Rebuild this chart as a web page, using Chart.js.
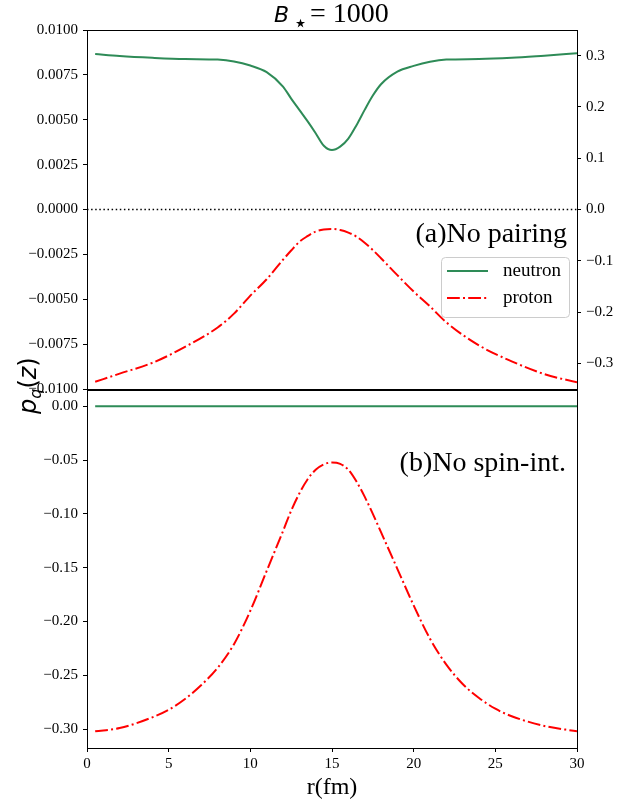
<!DOCTYPE html>
<html><head><meta charset="utf-8">
<script src="https://cdn.jsdelivr.net/npm/chart.js@4/dist/chart.umd.min.js"></script>
<style>
html,body{margin:0;padding:0;background:#fff;}
#wrap{position:relative;width:641px;height:805px;}
canvas{position:absolute;left:0;top:0;}
</style></head><body>
<div id="wrap"><canvas id="c1" width="641" height="805"></canvas><canvas id="c2" width="641" height="805"></canvas></div>
<script>
// ---- data ----
const rA = [0.5, 2, 4, 6, 8, 9, 10, 11, 12, 12.5, 13, 13.5, 14, 14.5, 15, 15.5, 16, 16.5, 17, 17.5, 18, 19, 20, 21, 22, 24, 26, 28, 30];
const neutronA = [0.00866, 0.00855, 0.00845, 0.00838, 0.00835, 0.00825, 0.00802, 0.00765, 0.00685, 0.00618, 0.00555, 0.00492, 0.00425, 0.00355, 0.00331, 0.00350, 0.00395, 0.00470, 0.00555, 0.00635, 0.00698, 0.00768, 0.00800, 0.00823, 0.00835, 0.00838, 0.00845, 0.00857, 0.00870];
const protonA = [-0.336, -0.320, -0.299, -0.268, -0.230, -0.203, -0.168, -0.136, -0.098, -0.080, -0.063, -0.052, -0.043, -0.039, -0.038, -0.040, -0.045, -0.053, -0.065, -0.079, -0.095, -0.128, -0.160, -0.189, -0.220, -0.265, -0.296, -0.321, -0.337];
const rB = [0.5, 2, 4, 5, 6, 7, 8, 9, 10, 11, 12, 12.5, 13, 13.5, 14, 14.5, 15, 15.5, 16, 16.5, 17, 17.5, 18, 19, 20, 21, 22, 23, 24, 25, 26, 28, 30];
const neutronB = [0, 0, 0, 0, 0, 0, 0, 0, 0, 0, 0, 0, 0, 0, 0, 0, 0, 0, 0, 0, 0, 0, 0, 0, 0, 0, 0, 0, 0, 0, 0, 0, 0];
const protonB = [-0.302, -0.299, -0.289, -0.282, -0.272, -0.259, -0.243, -0.221, -0.190, -0.153, -0.116, -0.097, -0.081, -0.068, -0.059, -0.054, -0.0522, -0.0535, -0.059, -0.070, -0.084, -0.100, -0.117, -0.151, -0.185, -0.216, -0.240, -0.258, -0.271, -0.281, -0.288, -0.297, -0.302];
const zeroLine = [0, 0];
const zeroX = [0, 30];
const xTicks = [0, 5, 10, 15, 20, 25, 30];
const leftTicksA = [-0.01, -0.0075, -0.005, -0.0025, 0, 0.0025, 0.005, 0.0075, 0.01];
const rightTicksA = [-0.3, -0.2, -0.1, 0, 0.1, 0.2, 0.3];
const leftTicksB = [-0.30, -0.25, -0.20, -0.15, -0.10, -0.05, 0];
const seriesNames = ['neutron', 'proton'];

// ---- styles ----
const SERIF = "'Liberation Serif','Times New Roman',serif";
const GREEN = '#2e8b57', RED = '#ff0000';
const DASHDOT = [12.8, 3.2, 2, 3.2];
const fmt = (v, d) => (v < -1e-12 ? '\u2212' : '') + Math.abs(v).toFixed(d);
const pts = (xs, ys) => xs.map((x, i) => ({x: x, y: ys[i]}));

const frame = {
  id: 'frame',
  afterDatasetsDraw(chart) {
    const {ctx, chartArea: a} = chart;
    ctx.save();
    ctx.strokeStyle = '#000'; ctx.lineWidth = 1;
    ctx.strokeRect(Math.round(a.left) + 0.5, Math.round(a.top) + 0.5, Math.round(a.right - a.left), Math.round(a.bottom - a.top));
    ctx.restore();
  }
};

function yScale(pos, min, max, tickArr, dec, width, showTicks) {
  return {
    type: 'linear', position: pos, min: min, max: max,
    afterFit(s) { s.width = width; },
    afterBuildTicks(s) { s.ticks = tickArr.map(v => ({value: v})); },
    ticks: {display: showTicks, callback: v => fmt(v, dec), font: {family: SERIF, size: 15}, color: '#000', padding: 5},
    grid: {drawOnChartArea: false, display: showTicks, tickLength: 4, tickColor: '#000', tickWidth: 1},
    border: {display: false}
  };
}

const decorA = {
  id: 'decorA',
  afterDraw(chart) {
    const ctx = chart.ctx;
    ctx.save();
    ctx.fillStyle = '#000';
    ctx.textBaseline = 'alphabetic';
    // title
    ctx.font = "italic 22px 'DejaVu Sans'";
    ctx.textAlign = 'left';
    ctx.fillText('B', 274, 22);
    ctx.font = "24px 'DejaVu Sans'";
    ctx.fillText('\u22C6', 293, 31);
    ctx.font = "28px " + SERIF;
    ctx.fillText('= 1000', 310, 22);
    // panel label
    ctx.font = "28px " + SERIF;
    ctx.textAlign = 'right';
    ctx.fillText('(a)No pairing', 567, 242);
    // legend
    const lx = 441, ly = 257, lw = 128, lh = 60;
    ctx.beginPath();
    ctx.roundRect(lx + 0.5, ly + 0.5, lw, lh, 4);
    ctx.fillStyle = 'rgba(255,255,255,0.8)';
    ctx.fill();
    ctx.strokeStyle = '#cccccc'; ctx.lineWidth = 1;
    ctx.stroke();
    const ds = chart.data.datasets;
    const rows = [271, 298];
    for (let i = 0; i < 2; i++) {
      ctx.beginPath();
      ctx.strokeStyle = ds[i].borderColor;
      ctx.lineWidth = 2;
      ctx.setLineDash(ds[i].borderDash || []);
      ctx.moveTo(447, rows[i]); ctx.lineTo(488, rows[i]);
      ctx.stroke();
      ctx.setLineDash([]);
      ctx.fillStyle = '#000';
      ctx.font = "19px " + SERIF;
      ctx.textAlign = 'left';
      ctx.textBaseline = 'middle';
      ctx.fillText(ds[i].label, 503, rows[i]);
    }
    ctx.restore();
  }
};

const decorB = {
  id: 'decorB',
  afterDraw(chart) {
    const ctx = chart.ctx;
    ctx.save();
    ctx.fillStyle = '#000';
    ctx.textBaseline = 'alphabetic';
    ctx.font = "28px " + SERIF;
    ctx.textAlign = 'right';
    ctx.fillText('(b)No spin-int.', 566, 471);
    // y label p_q(z), rotated
    ctx.translate(36, 414);
    ctx.rotate(-Math.PI / 2);
    ctx.textAlign = 'left';
    let x = 0;
    ctx.font = "italic 24px 'DejaVu Sans'";
    ctx.fillText('p', x, 0); x += ctx.measureText('p').width;
    ctx.font = "italic 16px 'DejaVu Sans'";
    ctx.fillText('q', x, 5); x += ctx.measureText('q').width;
    ctx.font = "24px 'DejaVu Sans'";
    ctx.fillText('(', x, 0); x += ctx.measureText('(').width;
    ctx.font = "italic 24px 'DejaVu Sans'";
    ctx.fillText('z', x, 0); x += ctx.measureText('z').width;
    ctx.font = "24px 'DejaVu Sans'";
    ctx.fillText(')', x, 0);
    ctx.restore();
  }
};

new Chart(document.getElementById('c1'), {
  type: 'line',
  data: {datasets: [
    {label: seriesNames[0], data: pts(rA, neutronA), yAxisID: 'yL', borderColor: GREEN, borderWidth: 2, pointRadius: 0, cubicInterpolationMode: 'monotone', fill: false},
    {label: seriesNames[1], data: pts(rA, protonA), yAxisID: 'yR', borderColor: RED, borderDash: DASHDOT, borderWidth: 2, pointRadius: 0, cubicInterpolationMode: 'monotone', fill: false},
    {label: 'zero', data: pts(zeroX, zeroLine), yAxisID: 'yL', borderColor: '#000', borderDash: [1.5, 2.6], borderWidth: 1.5, pointRadius: 0, fill: false}
  ]},
  options: {
    responsive: false, animation: false, devicePixelRatio: 1,
    layout: {padding: {top: 30, bottom: 416, left: 0, right: 0}},
    plugins: {legend: {display: false}, tooltip: {enabled: false}, title: {display: false}},
    scales: {
      x: {type: 'linear', min: 0, max: 30, display: false},
      yL: yScale('left', -0.01, 0.01, leftTicksA, 4, 87, true),
      yR: yScale('right', -0.35, 0.35, rightTicksA, 1, 64, true)
    }
  },
  plugins: [frame, decorA]
});

new Chart(document.getElementById('c2'), {
  type: 'line',
  data: {datasets: [
    {label: seriesNames[0], data: pts(rB, neutronB), yAxisID: 'yL', borderColor: GREEN, borderWidth: 2, pointRadius: 0, fill: false},
    {label: seriesNames[1], data: pts(rB, protonB), yAxisID: 'yL', borderColor: RED, borderDash: DASHDOT, borderWidth: 2, pointRadius: 0, cubicInterpolationMode: 'monotone', fill: false}
  ]},
  options: {
    responsive: false, animation: false, devicePixelRatio: 1,
    layout: {padding: {top: 390, bottom: 0, left: 0, right: 64}},
    plugins: {legend: {display: false}, tooltip: {enabled: false}},
    scales: {
      x: {
        type: 'linear', min: 0, max: 30, position: 'bottom',
        afterFit(s) { s.height = 57; },
        afterBuildTicks(s) { s.ticks = xTicks.map(v => ({value: v})); },
        ticks: {callback: v => String(v), font: {family: SERIF, size: 15}, color: '#000', padding: 3, maxRotation: 0},
        grid: {drawOnChartArea: false, tickLength: 4, tickColor: '#000'},
        border: {display: false},
        title: {display: true, text: 'r(fm)', font: {family: SERIF, size: 24}, color: '#000', padding: {top: 0, bottom: 3}}
      },
      yL: yScale('left', -0.3175, 0.0151, leftTicksB, 2, 87, true)
    }
  },
  plugins: [frame, decorB]
});
</script>
</body></html>
